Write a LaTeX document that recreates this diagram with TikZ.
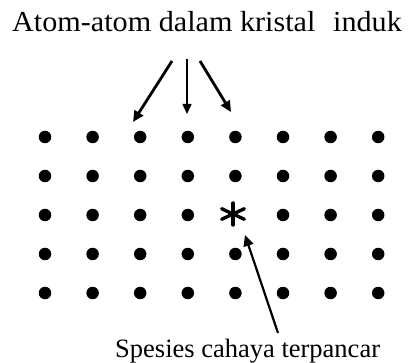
\documentclass[tikz,border=0pt]{standalone}
\usepackage{fontspec}
\setmainfont{Liberation Serif}
\newfontfamily\titlefont[FakeStretch=1.04]{Liberation Serif}
\usetikzlibrary{arrows.meta}

\begin{document}
\begin{tikzpicture}[
  x=1pt,y=-1pt,
  atom/.style={circle,fill=black,inner sep=0pt,minimum size=12.5pt},
  label/.style={inner sep=0pt,anchor=base west},
  pointer/.style={-{Triangle[length=11pt,width=10pt]},line width=2.8pt},
  thinpointer/.style={-{Triangle[length=10pt,width=9pt]},line width=1.6pt},
  arm/.style={line width=3.4pt,line cap=round}
]
\useasboundingbox (0,0) rectangle (415,363);
\node[label,font=\titlefont\fontsize{29}{33}\selectfont] (host) at (12,32)
  {Atom-atom dalam kristal\hspace{0.35em} induk};
\node[label,font=\fontsize{26.5}{30}\selectfont] (emitter) at (115,357)
  {Spesies cahaya terpancar};
% kisi atom
\foreach \r in {1,...,5}
  \foreach \c in {1,...,8}{
    \ifnum\numexpr\r*10+\c\relax=35 \else
      \node[atom] (a-\r-\c) at ({45+47.6*(\c-1)},{137+39*(\r-1)}) {};
    \fi
  }
% spesies pemancar
\coordinate (star) at (233,214);
\draw[arm] ([shift={(90:11)}]star) -- ([shift={(270:11)}]star);
\draw[arm] ([shift={(25:12.5)}]star) -- ([shift={(205:12.5)}]star);
\draw[arm] ([shift={(155:12.5)}]star) -- ([shift={(335:12.5)}]star);
% panah
\coordinate (t1) at (172,61);
\coordinate (h1) at (133,122);
\coordinate (t2) at (187,59);
\coordinate (h2) at (187,114);
\coordinate (t3) at (200,61);
\coordinate (h3) at (231,112);
\coordinate (t4) at (278,333);
\coordinate (h4) at (245,235);
\draw[pointer] (t1) -- (h1);
\draw[thinpointer] (t2) -- (h2);
\draw[pointer] (t3) -- (h3);
\draw[pointer,line width=2.2pt] (t4) -- (h4);
\end{tikzpicture}
\end{document}
